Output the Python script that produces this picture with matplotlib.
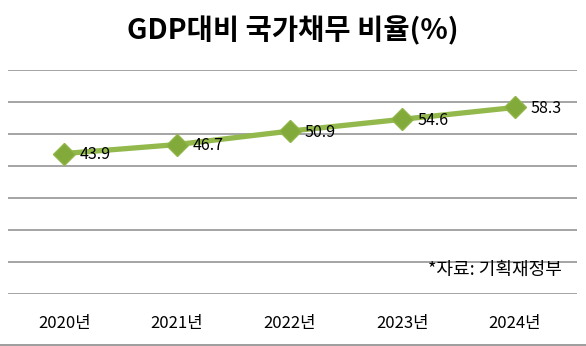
import matplotlib
matplotlib.use("Agg")
from matplotlib import pyplot as plt

plt.rcParams['font.family'] = ['Noto Sans CJK KR', 'DejaVu Sans']

# 데이터
years = ['2020년', '2021년', '2022년', '2023년', '2024년']
ratio = [43.9, 46.7, 50.9, 54.6, 58.3]
grid_vals = [0, 10, 20, 30, 40, 50, 60, 70]

fig = plt.figure(figsize=(5.86, 3.46), dpi=100)
ax = fig.add_axes([8/586, 52/346, 569/586, 224/346])

x = list(range(len(years)))
for g in grid_vals:
    ax.axhline(g, color='#8c8c8c', lw=1.1, zorder=1)

ax.plot(x, ratio, color='#93b94c', lw=3.8, marker='D', markersize=11,
        markerfacecolor='#82aa3a', markeredgecolor='#8fb546', zorder=3)

for xi, v in zip(x, ratio):
    ax.annotate(f'{v}', (xi, v), xytext=(11, -1), textcoords='offset points',
                ha='left', va='center', fontsize=11.5, color='black', zorder=4)

ax.set_xlim(-0.5, 4.55)
ax.set_ylim(0, 70)
ax.set_yticks([])
ax.set_xticks(x)
ax.set_xticklabels(years, fontsize=12)
ax.tick_params(axis='x', length=0, pad=15)
for s in ax.spines.values():
    s.set_visible(False)

ax.text(4.42, 7.5, '*자료: 기획재정부', ha='right', va='center', fontsize=13)

fig.text(0.5, 0.912, 'GDP대비 국가채무 비율(%)', ha='center', va='center',
         fontsize=20.5, fontweight='bold')
fig.add_artist(plt.Line2D([0, 1], [0.002, 0.002], color='#8c8c8c', lw=1.2))

fig.savefig('out.png', dpi=100)
